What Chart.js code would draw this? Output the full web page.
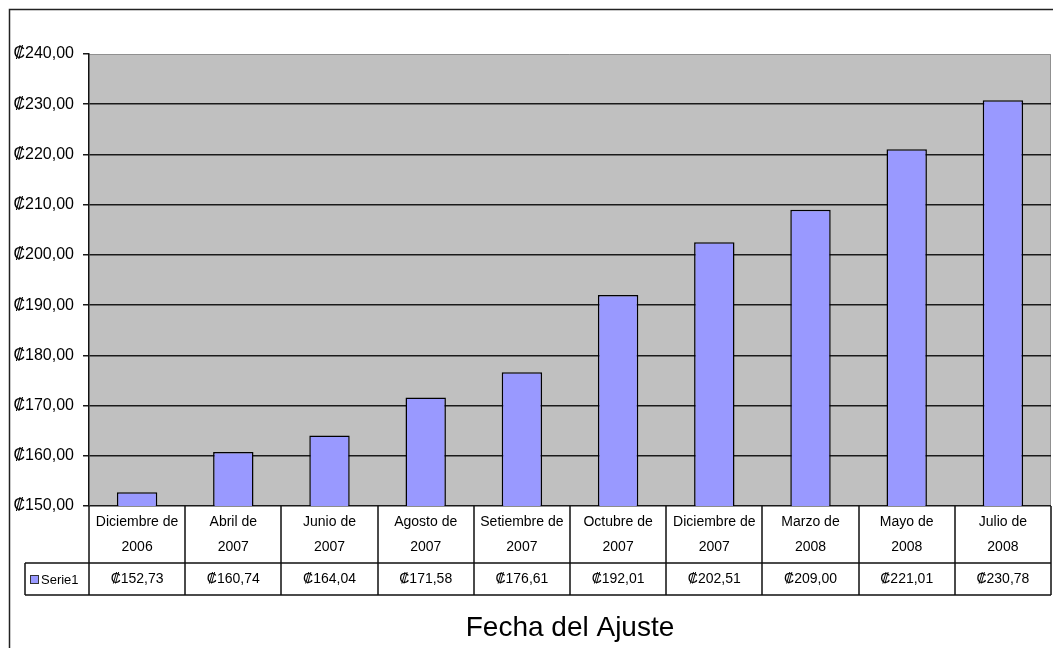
<!DOCTYPE html>
<html>
<head>
<meta charset="utf-8">
<script src="https://cdn.jsdelivr.net/npm/chart.js@4/dist/chart.umd.min.js"></script>
<style>
  html, body { margin: 0; padding: 0; background: #fff; }
  #wrap { width: 1053px; height: 648px; position: relative; }
</style>
</head>
<body>
<div id="wrap"><canvas id="chart"></canvas></div>
<script>
const categories = [
  ["Diciembre de", "2006"],
  ["Abril de", "2007"],
  ["Junio de", "2007"],
  ["Agosto de", "2007"],
  ["Setiembre de", "2007"],
  ["Octubre de", "2007"],
  ["Diciembre de", "2007"],
  ["Marzo de", "2008"],
  ["Mayo de", "2008"],
  ["Julio de", "2008"]
];
const serie1 = [152.73, 160.74, 164.04, 171.58, 176.61, 192.01, 202.51, 209.00, 221.01, 230.78];
const seriesName = "Serie1";
const axisTitle = "Fecha del Ajuste";

const colon = (v) => "\u20A1" + v.toFixed(2).replace(".", ",");

// gray plot area, outer frame
const frame = {
  id: "frame",
  beforeDraw(chart) {
    const { ctx, chartArea: a } = chart;
    ctx.save();
    ctx.fillStyle = "#fff";
    ctx.fillRect(0, 0, chart.width, chart.height);
    ctx.fillStyle = "#c0c0c0";
    ctx.fillRect(a.left, a.top, a.right - a.left, a.bottom - a.top);
    ctx.strokeStyle = "#222";
    ctx.lineWidth = 1.5;
    ctx.beginPath();
    ctx.moveTo(chart.width + 5, 9.5);
    ctx.lineTo(9.5, 9.5);
    ctx.lineTo(9.5, chart.height + 5);
    ctx.stroke();
    ctx.strokeStyle = "#909090";
    ctx.lineWidth = 1;
    ctx.beginPath();
    ctx.moveTo(a.left, a.top + 0.5);
    ctx.lineTo(a.right - 0.5, a.top + 0.5);
    ctx.lineTo(a.right - 0.5, a.bottom);
    ctx.stroke();
    ctx.restore();
  }
};

// data table under the plot
const dataTable = {
  id: "dataTable",
  afterDraw(chart) {
    const { ctx, chartArea: a } = chart;
    const x = chart.scales.x;
    const labels = chart.data.labels;
    const values = chart.data.datasets[0].data;
    const n = labels.length;
    const w = (a.right - a.left) / n;
    const top = a.bottom, mid = top + 57, bot = mid + 32;
    const keyLeft = 25;
    ctx.save();
    ctx.strokeStyle = "#111";
    ctx.lineWidth = 1.5;
    ctx.beginPath();
    ctx.moveTo(keyLeft, mid); ctx.lineTo(a.right, mid);
    ctx.moveTo(keyLeft, bot); ctx.lineTo(a.right, bot);
    ctx.moveTo(keyLeft, mid); ctx.lineTo(keyLeft, bot);
    for (let i = 0; i <= n; i++) {
      const px = Math.round(i < n ? x.getPixelForValue(i) - w / 2 : a.right) ;
      ctx.moveTo(px, top); ctx.lineTo(px, bot);
    }
    ctx.stroke();

    ctx.fillStyle = "#000";
    ctx.textAlign = "center";
    ctx.textBaseline = "middle";
    for (let i = 0; i < n; i++) {
      const cx = x.getPixelForValue(i);
      ctx.font = "14px 'Liberation Sans', Arial, sans-serif";
      ctx.fillText(labels[i][0], cx, top + 16);
      ctx.fillText(labels[i][1], cx, top + 41);
      ctx.font = "14px 'Liberation Sans', Arial, sans-serif";
      ctx.fillText(colon(values[i]), cx, mid + 16);
    }
    // legend key
    ctx.fillStyle = "#9999ff";
    ctx.fillRect(30, mid + 12, 8, 8);
    ctx.strokeStyle = "#333";
    ctx.lineWidth = 1;
    ctx.strokeRect(30.5, mid + 12.5, 8, 8);
    ctx.fillStyle = "#000";
    ctx.textAlign = "left";
    ctx.font = "13px 'Liberation Sans', Arial, sans-serif";
    ctx.fillText(chart.data.datasets[0].label, 41, mid + 17);
    ctx.restore();
  }
};

new Chart(document.getElementById("chart"), {
  type: "bar",
  data: {
    labels: categories,
    datasets: [{
      label: seriesName,
      data: serie1,
      backgroundColor: "#9999ff",
      borderColor: "#000",
      borderWidth: 1.5,
      barPercentage: 0.42,
      categoryPercentage: 1
    }]
  },
  options: {
    responsive: true,
    maintainAspectRatio: false,
    animation: false,
    layout: { padding: { top: 54, right: 2, left: 0, bottom: 0 } },
    plugins: {
      legend: { display: false },
      tooltip: { enabled: false }
    },
    scales: {
      x: {
        grid: { display: false },
        border: { display: false },
        ticks: { display: false },
        title: {
          display: true,
          text: axisTitle,
          color: "#000",
          font: { family: "'Liberation Sans', Arial, sans-serif", size: 28 },
          padding: { top: 0, bottom: 3 }
        },
        afterFit: (s) => { s.height = 142; }
      },
      y: {
        min: 150,
        max: 240,
        ticks: {
          stepSize: 10,
          padding: 9,
          color: "#000",
          font: { family: "'Liberation Sans Narrow', 'Liberation Sans', Arial, sans-serif", size: 16 },
          callback: (v) => colon(v)
        },
        grid: {
          color: (c) => (c.tick && c.tick.value === 240 ? "rgba(0,0,0,0)" : "#1a1a1a"),
          tickColor: "#1a1a1a",
          lineWidth: 1.5,
          tickLength: 6
        },
        border: { color: "#111", width: 1.5 },
        afterFit: (s) => { s.width = 89; }
      }
    }
  },
  plugins: [frame, dataTable]
});
</script>
</body>
</html>
